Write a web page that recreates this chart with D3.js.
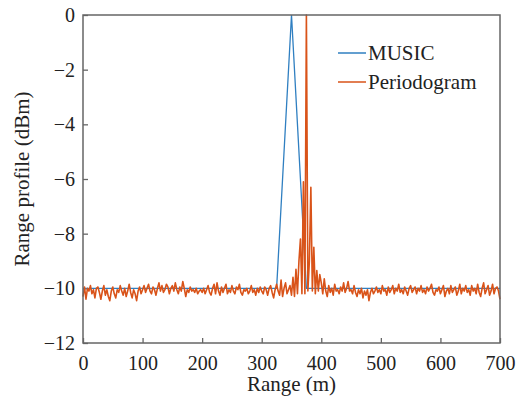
<!DOCTYPE html>
<html>
<head>
<meta charset="utf-8">
<script src="https://cdn.jsdelivr.net/npm/d3@7"></script>
<style>
  body { margin: 0; background: #fff; }
  text { font-family: "Liberation Serif", "Times New Roman", serif; fill: #222; }
</style>
</head>
<body>
<div id="my_dataviz"></div>
<script>
// MUSIC spectrum, sampled every 25 m
var musicRange = [0,25,50,75,100,125,150,175,200,225,250,275,300,325,350,375,400,425,450,475,500,525,550,575,600,625,650,675,700]
var musicValues = [-10,-10,-10,-10,-10,-10,-10,-10,-10,-10,-10,-10,-10,-10,0,-10,-10,-10,-10,-10,-10,-10,-10,-10,-10,-10,-10,-10,-10]

// periodogram, sampled every 2.5 m (0 .. 700)
var periodogramStep = 2.5
var periodogramValues = [
  -10.3,-9.95,-10.4,-10.0,-10.1,-9.9,-10.2,-10.05,-10.35,-10.0,-9.95,-10.15,-10.4,-10.1,-9.9,-10.25,-10.05,-10.3,-10.45,-10.1,
  -9.95,-10.2,-10.35,-10.05,-10.15,-9.9,-10.1,-10.25,-10.0,-10.3,-10.1,-9.85,-10.15,-10.35,-10.05,-10.2,-10.45,-10.1,-9.95,-10.2,
  -10.05,-9.9,-10.15,-10.0,-9.85,-10.1,-10.2,-9.95,-10.05,-10.25,-10.0,-9.8,-10.1,-9.9,-10.15,-10.05,-9.85,-9.95,-10.2,-10.0,
  -9.9,-10.1,-9.8,-10.05,-10.2,-9.95,-10.1,-9.75,-10.0,-10.3,-10.05,-10.15,-9.95,-10.1,-10.05,-10.15,-10.0,-10.2,-10.1,-10.05,
  -10.15,-10.0,-10.2,-10.05,-9.9,-10.15,-10.25,-10.0,-9.85,-10.2,-9.8,-10.1,-10.25,-9.95,-10.15,-10.0,-9.85,-10.2,-10.05,-10.15,
  -9.9,-10.1,-10.2,-9.95,-10.05,-9.85,-10.15,-10.25,-10.05,-10.1,-10.0,-10.2,-10.1,-9.9,-10.15,-10.05,-10.25,-10.0,-10.15,-9.95,
  -10.1,-10.2,-9.95,-10.05,-10.25,-10.0,-9.9,-10.15,-10.35,-10.05,-9.85,-10.1,-10.25,-9.7,-10.3,-10.0,-9.8,-10.2,-10.05,-9.9,
  -10.25,-9.6,-10.3,-9.3,-10.2,-9.0,-8.2,-10.2,-6.1,-10.2,0,-10.1,-9.0,-6.3,-10.1,-8.5,-10.2,-9.35,-10.1,-9.5,
  -9.8,-10.2,-9.65,-10.1,-10.3,-9.9,-10.15,-10.0,-10.25,-9.85,-10.1,-10.05,-10.2,-9.95,-10.1,-9.8,-10.15,-10.0,-9.75,-10.1,
  -10.05,-10.2,-9.9,-10.15,-10.3,-10.05,-10.2,-10.0,-10.35,-10.1,-10.25,-10.05,-10.45,-10.15,-10.0,-10.2,-10.1,-9.95,-10.15,-10.05,
  -10.2,-9.9,-10.1,-10.05,-10.25,-9.95,-10.15,-10.05,-9.9,-10.2,-10.0,-10.1,-9.85,-10.15,-10.05,-10.2,-9.95,-10.1,-10.25,-10.0,
  -9.9,-10.15,-10.05,-9.95,-10.2,-10.0,-10.1,-9.9,-10.15,-10.05,-10.2,-9.95,-10.1,-10.0,-9.85,-10.15,-10.25,-10.05,-10.1,-9.95,
  -10.2,-10.05,-9.9,-10.3,-10.1,-10.0,-10.2,-9.9,-10.15,-10.05,-9.95,-10.25,-10.1,-9.85,-10.2,-10.0,-10.1,-9.9,-10.15,-10.05,
  -10.25,-9.9,-10.1,-10.0,-10.2,-9.85,-10.15,-10.3,-10.0,-9.8,-10.2,-10.05,-9.9,-10.25,-10.1,-9.85,-10.2,-10.0,-9.95,-10.1,
  -10.4
]

var xTicks = [0,100,200,300,400,500,600,700]
var yTicks = [0,-2,-4,-6,-8,-10,-12]
var seriesNames = ["MUSIC", "Periodogram"]
var seriesColors = ["#2f7fc1", "#d95319"]

var margin = {top: 15, right: 24, bottom: 56, left: 83},
  width = 524 - margin.left - margin.right,
  height = 399 - margin.top - margin.bottom;

var svg = d3.select("#my_dataviz")
.append("svg")
  .attr("width", width + margin.left + margin.right)
  .attr("height", height + margin.top + margin.bottom)
.append("g")
  .attr("transform", "translate(" + margin.left + "," + margin.top + ")");

var x = d3.scaleLinear().domain([0, 700]).range([0, width]);
var y = d3.scaleLinear().domain([-12, 0]).range([height, 0]);

// axes, ticks pointing inward
var xAxis = svg.append("g")
  .attr("transform", "translate(0," + height + ")")
  .call(d3.axisBottom(x).tickValues(xTicks).tickSizeInner(-5).tickSizeOuter(0).tickPadding(13));
var yAxis = svg.append("g")
  .call(d3.axisLeft(y).tickValues(yTicks).tickSizeInner(-5).tickSizeOuter(0).tickPadding(8));

[xAxis, yAxis].forEach(function(a) {
  a.select(".domain").remove();
  a.selectAll("line").style("stroke", "#666").style("stroke-width", 1.3);
  a.selectAll("text").style("font-family", "Liberation Serif").style("font-size", "20px").style("fill", "#222");
});

// data lines
var musicData = musicRange.map(function(r, i) { return [r, musicValues[i]]; });
var periodogramData = periodogramValues.map(function(v, i) { return [i * periodogramStep, v]; });

var line = d3.line()
  .x(function(d) { return x(d[0]); })
  .y(function(d) { return y(d[1]); });

svg.append("path")
  .datum(musicData)
  .attr("d", line)
  .style("fill", "none")
  .style("stroke", seriesColors[0])
  .style("stroke-width", 1.3);

svg.append("path")
  .datum(periodogramData)
  .attr("d", line)
  .style("fill", "none")
  .style("stroke", seriesColors[1])
  .style("stroke-width", 1.6)
  .style("stroke-linejoin", "round");

// box
svg.append("rect")
  .attr("width", width)
  .attr("height", height)
  .style("fill", "none")
  .style("stroke", "#666")
  .style("stroke-width", 1.5);

// legend
var legend = svg.selectAll(".legend")
  .data(seriesNames)
  .enter()
  .append("g")
    .attr("transform", function(d, i) { return "translate(" + (338 - margin.left) + "," + (53 - margin.top + i * 29) + ")"; });
legend.append("line")
  .attr("x1", 0).attr("x2", 28)
  .style("stroke", function(d, i) { return seriesColors[i]; })
  .style("stroke-width", 1.5);
legend.append("text")
  .attr("x", 30)
  .attr("dy", "0.35em")
  .style("font-size", "21px")
  .text(function(d) { return d; });

// axis labels
svg.append("text")
  .attr("x", width / 2)
  .attr("y", 391 - margin.top)
  .attr("text-anchor", "middle")
  .style("font-size", "21px")
  .text("Range (m)");

svg.append("text")
  .attr("transform", "translate(" + (29 - margin.left) + "," + (height / 2) + ") rotate(-90)")
  .attr("text-anchor", "middle")
  .style("font-size", "21px")
  .text("Range profile (dBm)");
</script>
</body>
</html>
